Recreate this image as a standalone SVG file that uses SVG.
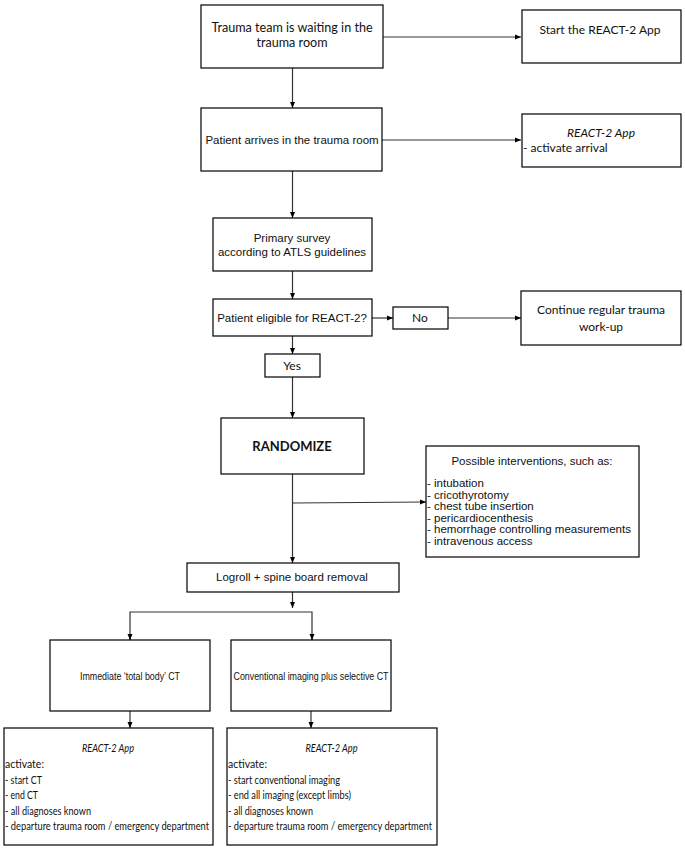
<svg xmlns="http://www.w3.org/2000/svg" width="685" height="850" viewBox="0 0 685 850">
<style>
.box{fill:#fff;stroke:#000;stroke-width:1.2}
.ln{fill:none;stroke:#333;stroke-width:1.2}
.a{font-family:"Liberation Sans",Arial,sans-serif;font-size:11.5px;fill:#111}
.c{font-family:Lato,"Open Sans",sans-serif;font-size:12px;fill:#111}
.d{font-family:Lato,"Open Sans",sans-serif;font-size:11px;fill:#111}
.m{text-anchor:middle}
.i{font-style:italic}
.b{font-weight:bold}
</style>
<defs>
<marker id="ah" viewBox="0 0 6 6" refX="6" refY="3" markerWidth="6" markerHeight="6" markerUnits="userSpaceOnUse" orient="auto">
<path d="M0,0.5 L6,3 L0,5.5 Z" fill="#000"/>
</marker>
</defs>
<rect width="685" height="850" fill="#fff"/>
<g id="connectors">
<line class="ln" x1="383" y1="37" x2="521" y2="37" marker-end="url(#ah)"/>
<line class="ln" x1="292.5" y1="68" x2="292.5" y2="108" marker-end="url(#ah)"/>
<line class="ln" x1="382" y1="140" x2="521" y2="140" marker-end="url(#ah)"/>
<line class="ln" x1="292.5" y1="171" x2="292.5" y2="218" marker-end="url(#ah)"/>
<line class="ln" x1="292.5" y1="271" x2="292.5" y2="299" marker-end="url(#ah)"/>
<line class="ln" x1="372" y1="318" x2="393" y2="318" marker-end="url(#ah)"/>
<line class="ln" x1="448" y1="318" x2="521" y2="318" marker-end="url(#ah)"/>
<line class="ln" x1="292.5" y1="336" x2="292.5" y2="354" marker-end="url(#ah)"/>
<line class="ln" x1="292.5" y1="377" x2="292.5" y2="418" marker-end="url(#ah)"/>
<line class="ln" x1="292.5" y1="474" x2="292.5" y2="563" marker-end="url(#ah)"/>
<line class="ln" x1="292.5" y1="503" x2="426" y2="502" marker-end="url(#ah)"/>
<line class="ln" x1="292.5" y1="592" x2="292.5" y2="608" marker-end="url(#ah)"/>
<polyline class="ln" points="130,640 130,612 312,612 312,640"/>
<line class="ln" x1="130" y1="634" x2="130" y2="640" marker-end="url(#ah)"/>
<line class="ln" x1="312" y1="634" x2="312" y2="640" marker-end="url(#ah)"/>
<line class="ln" x1="130" y1="711" x2="130" y2="728" marker-end="url(#ah)"/>
<line class="ln" x1="311" y1="711" x2="311" y2="728" marker-end="url(#ah)"/>
</g>
<g id="n1"><rect class="box" x="201" y="5" width="182" height="63"/>
<text class="c m" x="292" y="32" style="font-size:12.6px">Trauma team is waiting in the</text>
<text class="c m" x="292" y="47" style="font-size:12.6px">trauma room</text></g>
<g id="n2"><rect class="box" x="522" y="10" width="159" height="53"/>
<text class="c m" x="600" y="34">Start the REACT-2 App</text></g>
<g id="n3"><rect class="box" x="201" y="108" width="181" height="63"/>
<text class="a m" x="292" y="144">Patient arrives in the trauma room</text></g>
<g id="n4"><rect class="box" x="522" y="114" width="159" height="53"/>
<text class="c m i" x="601" y="137">REACT-2 App</text>
<text class="c" x="523" y="152">- activate arrival</text></g>
<g id="n5"><rect class="box" x="213" y="218" width="159" height="53"/>
<text class="a m" x="292" y="242">Primary survey</text>
<text class="a m" x="292" y="256">according to ATLS guidelines</text></g>
<g id="n6"><rect class="box" x="213" y="299" width="159" height="37"/>
<text class="a m" x="292" y="322">Patient eligible for REACT-2?</text></g>
<g id="n7"><rect class="box" x="393" y="307" width="55" height="22"/>
<text class="c m" x="420" y="322">No</text></g>
<g id="n8"><rect class="box" x="521" y="291" width="160" height="54"/>
<text class="c m" x="601" y="314">Continue regular trauma</text>
<text class="c m" x="601" y="331">work-up</text></g>
<g id="n9"><rect class="box" x="265" y="354" width="55" height="23"/>
<text class="c m" x="292" y="370">Yes</text></g>
<g id="n10"><rect class="box" x="221" y="418" width="143" height="56"/>
<text class="c m b" x="292" y="451" style="font-size:13px">RANDOMIZE</text></g>
<g id="n11"><rect class="box" x="426" y="446" width="213" height="111"/>
<text class="a m" x="532" y="465">Possible interventions, such as:</text>
<text class="a" x="427" y="487">- intubation</text>
<text class="a" x="427" y="498.5">- cricothyrotomy</text>
<text class="a" x="427" y="510">- chest tube insertion</text>
<text class="a" x="427" y="521.5">- pericardiocenthesis</text>
<text class="a" x="427" y="533">- hemorrhage controlling measurements</text>
<text class="a" x="427" y="544.5">- intravenous access</text></g>
<g id="n12"><rect class="box" x="187" y="563" width="212" height="29"/>
<text class="a m" x="292" y="581">Logroll + spine board removal</text></g>
<g id="n13"><rect class="box" x="50" y="640" width="160" height="71"/>
<text class="a m" x="130" y="680" textLength="100" lengthAdjust="spacingAndGlyphs">Immediate ‘total body’ CT</text></g>
<g id="n14"><rect class="box" x="231" y="640" width="160" height="71"/>
<text class="a m" x="311" y="680" textLength="155" lengthAdjust="spacingAndGlyphs">Conventional imaging plus selective CT</text></g>
<g id="n15"><rect class="box" x="4" y="728" width="209" height="117"/>
<text class="d m i" x="108" y="752" textLength="52" lengthAdjust="spacingAndGlyphs">REACT-2 App</text>
<text class="d" x="5" y="768" textLength="39" lengthAdjust="spacingAndGlyphs">activate:</text>
<text class="d" x="5" y="783.5" textLength="37" lengthAdjust="spacingAndGlyphs">- start CT</text>
<text class="d" x="5" y="799" textLength="33" lengthAdjust="spacingAndGlyphs">- end CT</text>
<text class="d" x="5" y="814.5" textLength="86" lengthAdjust="spacingAndGlyphs">- all diagnoses known</text>
<text class="d" x="5" y="830" textLength="204" lengthAdjust="spacingAndGlyphs">- departure trauma room / emergency department</text></g>
<g id="n16"><rect class="box" x="227" y="728" width="210" height="117"/>
<text class="d m i" x="331.5" y="752" textLength="52" lengthAdjust="spacingAndGlyphs">REACT-2 App</text>
<text class="d" x="228" y="768" textLength="39" lengthAdjust="spacingAndGlyphs">activate:</text>
<text class="d" x="228" y="783.5" textLength="112" lengthAdjust="spacingAndGlyphs">- start conventional imaging</text>
<text class="d" x="228" y="799" textLength="123" lengthAdjust="spacingAndGlyphs">- end all imaging (except limbs)</text>
<text class="d" x="228" y="814.5" textLength="85" lengthAdjust="spacingAndGlyphs">- all diagnoses known</text>
<text class="d" x="228" y="830" textLength="204" lengthAdjust="spacingAndGlyphs">- departure trauma room / emergency department</text></g>
</svg>
